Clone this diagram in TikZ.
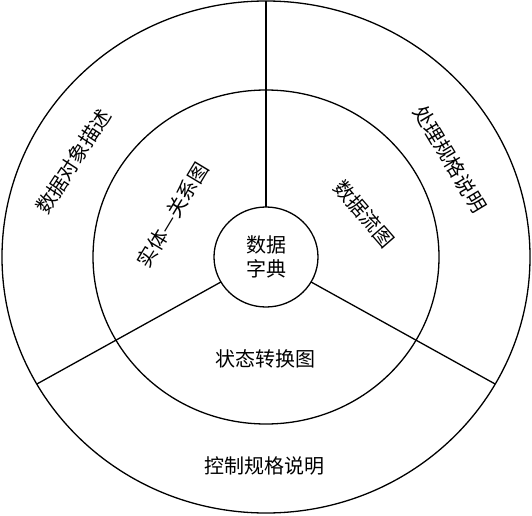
\documentclass[tikz,border=0pt]{standalone}
\usepackage{fontspec}
\newfontfamily\cjk{Noto Sans CJK SC}
\usepackage{tikz}
\usetikzlibrary{shapes.geometric}
\usetikzlibrary{positioning}
\tikzset{
    ringnode/.style = {ellipse, line width=1.3pt, draw=black, inner sep=0pt, outer sep=0pt, align=center},
    labeln/.style = {align=center, inner sep=0pt, font=\cjk\fontsize{20}{24}\selectfont, text=black},
    edgen/.style = {-, line width=1.3pt, black},
}
\begin{document}
\begin{tikzpicture}[x=1pt,y=1pt]
%
\path[use as bounding box] (0,0) rectangle (532,515);
%
\node[ringnode, minimum width=528pt, minimum height=512pt] at (266,258) (outer) {};
\node[ringnode, minimum width=346pt, minimum height=334pt] at (266,258) (middle) {};
\node[ringnode, minimum width=104pt, minimum height=100pt, labeln] at (266,258) (dict) {数据\\字典};
%
\draw[edgen] (dict.90) -- (outer.90);
\draw[edgen] (dict.209) -- (outer.209);
\draw[edgen] (dict.331) -- (outer.331);
%
\node[labeln] at (265,156.5) (state) {状态转换图};
\node[labeln] at (264,49) (control) {控制规格说明};
\node[labeln, rotate=57] at (73.5,353.5) (object) {数据对象描述};
\node[labeln, rotate=59] at (172.5,300) (er) {实体—关系图};
\node[labeln, rotate=-49] at (364,301) (dfd) {数据流图};
\node[labeln, rotate=-59] at (450,356) (process) {处理规格说明};
%
\end{tikzpicture}
\end{document}
